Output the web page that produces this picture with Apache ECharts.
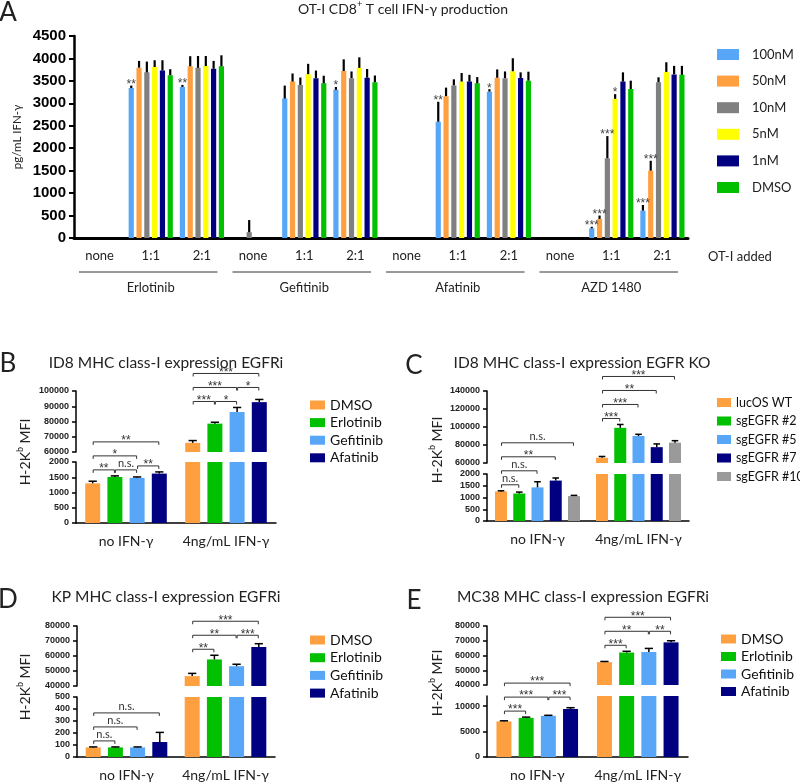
<!DOCTYPE html>
<html><head><meta charset="utf-8">
<script src="https://cdn.jsdelivr.net/npm/echarts@6/dist/echarts.min.js"></script>
<style>html,body{margin:0;padding:0;background:#fff}#c{width:800px;height:783px}</style>
</head><body><div id="c"></div>
<script>
// ================= DATA =================
// Panel A
const aConcentrations = ['100nM', '50nM', '10nM', '5nM', '1nM', 'DMSO'];
const aCategories = ['none', '1:1', '2:1', 'none', '1:1', '2:1', 'none', '1:1', '2:1', 'none', '1:1', '2:1'];
const aDrugs = ['Erlotinib', 'Gefitinib', 'Afatinib', 'AZD 1480'];
const aYAxis = [0, 4500, 500];
const a100nM = [0, 3340, 3365, 0, 3105, 3300, 0, 2590, 3260, 0, 215, 610];
const a50nM  = [0, 3795, 3825, 0, 3485, 3720, 0, 3160, 3570, 0, 425, 1500];
const a10nM  = [0, 3690, 3790, 130, 3410, 3560, 0, 3400, 3560, 0, 1775, 3470];
const a5nM   = [0, 3810, 3830, 0, 3650, 3790, 0, 3485, 3715, 0, 3100, 3700];
const a1nM   = [0, 3730, 3770, 0, 3560, 3570, 0, 3485, 3565, 0, 3485, 3645];
const aDMSO  = [0, 3625, 3825, 0, 3445, 3470, 0, 3445, 3505, 0, 3320, 3635];
const a100nMErr = [0, 55, 45, 0, 290, 65, 0, 445, 55, 0, 35, 125];
const a50nMErr  = [0, 150, 225, 0, 180, 260, 0, 190, 185, 0, 75, 220];
const a10nMErr  = [0, 240, 265, 270, 165, 150, 0, 135, 150, 0, 495, 110];
const a5nMErr   = [0, 150, 225, 0, 230, 235, 0, 190, 290, 0, 105, 215];
const a1nMErr   = [0, 230, 175, 0, 170, 195, 0, 150, 125, 0, 205, 190];
const aDMSOErr  = [0, 135, 245, 0, 170, 150, 0, 140, 200, 0, 185, 200];
const a100nMSig = ['', '**', '**', '', '', '*', '', '**', '*', '', '***', '***'];
const a50nMSig  = ['', '', '', '', '', '', '', '', '', '', '***', '***'];
const a10nMSig  = ['', '', '', '', '', '', '', '', '', '', '***', ''];
const a5nMSig   = ['', '', '', '', '', '', '', '', '', '', '*', ''];
const a1nMSig   = ['', '', '', '', '', '', '', '', '', '', '', ''];
const aDMSOSig  = ['', '', '', '', '', '', '', '', '', '', '', ''];

// Panels B-E
const ifnGroups = ['no IFN-γ', '4ng/mL IFN-γ'];
const egfriNames = ['DMSO', 'Erlotinib', 'Gefitinib', 'Afatinib'];
const koNames = ['lucOS WT', 'sgEGFR #2', 'sgEGFR #5', 'sgEGFR #7', 'sgEGFR #10'];

// B: ID8 EGFRi
const bDMSO = [1300, 66000], bErlotinib = [1510, 78600], bGefitinib = [1480, 86200], bAfatinib = [1620, 92700];
const bDMSOErr = [70, 1500], bErlotinibErr = [35, 900], bGefitinibErr = [30, 3000], bAfatinibErr = [55, 1750];
const bTopAxis = [60000, 100000, 10000], bBottomAxis = [0, 2000, 500];
// [group, fromBar, toBar, label, tier]
const bSig = [[0,0,1,'**',0],[0,1,2,'n.s.',0],[0,2,3,'**',1],[0,0,2,'*',2],[0,0,3,'**',3],
              [1,0,1,'***',0],[1,1,2,'*',0],[1,0,2,'***',1],[1,2,3,'*',1],[1,0,3,'***',2]];

// C: ID8 EGFR KO
const cLucOS = [1260, 65800], cSg2 = [1170, 99100], cSg5 = [1430, 90000], cSg7 = [1720, 77600], cSg10 = [1060, 82600];
const cLucOSErr = [25, 1450], cSg2Err = [60, 3700], cSg5Err = [240, 1900], cSg7Err = [110, 3600], cSg10Err = [30, 2200];
const cTopAxis = [60000, 140000, 20000], cBottomAxis = [0, 2000, 500];
const cSig = [[0,0,1,'n.s.',0],[0,0,2,'n.s.',1],[0,0,3,'**',2],[0,0,4,'n.s.',3],
              [1,0,1,'***',0],[1,0,2,'***',1],[1,0,3,'**',2],[1,0,4,'***',3]];

// D: KP EGFRi
const dDMSO = [80, 46600], dErlotinib = [80, 57700], dGefitinib = [80, 53200], dAfatinib = [125, 66000];
const dDMSOErr = [4, 1800], dErlotinibErr = [4, 2800], dGefitinibErr = [4, 1300], dAfatinibErr = [80, 2200];
const dTopAxis = [40000, 80000, 10000], dBottomAxis = [0, 500, 100];
const dSig = [[0,0,1,'n.s.',0],[0,0,2,'n.s.',1],[0,0,3,'n.s.',2],
              [1,0,1,'**',0],[1,0,2,'**',1],[1,2,3,'***',1],[1,0,3,'***',2]];

// E: MC38 EGFRi
const eDMSO = [7000, 55500], eErlotinib = [7700, 62000], eGefitinib = [8100, 62400], eAfatinib = [9450, 68900];
const eDMSOErr = [120, 450], eErlotinibErr = [150, 850], eGefitinibErr = [100, 2400], eAfatinibErr = [250, 1100];
const eTopAxis = [40000, 80000, 10000], eBottomAxis = [0, 12000, 5000];
const eSig = [[0,0,1,'***',0],[0,0,2,'***',1],[0,2,3,'***',1],[0,0,3,'***',2],
              [1,0,1,'***',0],[1,0,2,'**',1],[1,2,3,'**',1],[1,0,3,'***',2]];

// ================= STYLE / LAYOUT =================
const FONT = 'Lato';
const NUMFONT = 'Liberation Sans';
const aColors = ['#58a6f8', '#ffa040', '#808080', '#ffff00', '#000080', '#00c000'];
const egfriColors = ['#ffa040', '#00c000', '#58a6f8', '#000080'];
const koColors = ['#ffa040', '#00c000', '#58a6f8', '#000080', '#9a9a9a'];
const plainNum = v => String(v);

const option = {animation: false, backgroundColor: '#fff', grid: [], xAxis: [], yAxis: [], series: [], legend: []};
function addGrid(g) { option.grid.push(Object.assign({containLabel: false, outerBoundsMode: 'none'}, g)); return option.grid.length - 1; }
function addX(a) { option.xAxis.push(a); return option.xAxis.length - 1; }
function addY(a) { option.yAxis.push(a); return option.yAxis.length - 1; }
function barOffset(n, w, gap, i) { const g = w * gap; const total = n * w + (n - 1) * g; return -total / 2 + w / 2 + i * (w + g); }

// ---------- Panel A ----------
const aValues = [a100nM, a50nM, a10nM, a5nM, a1nM, aDMSO];
const aErrs = [a100nMErr, a50nMErr, a10nMErr, a5nMErr, a1nMErr, aDMSOErr];
const aSigs = [a100nMSig, a50nMSig, a10nMSig, a5nMSig, a1nMSig, aDMSOSig];
const A_BW = 5.2, A_GAP = 0.5;
const gA = addGrid({left: 74, top: 36, width: 614, height: 202});
const xA = addX({type: 'category', gridIndex: gA, data: aCategories,
  axisLine: {lineStyle: {color: '#000', width: 3}},
  axisTick: {alignWithLabel: true, length: 4, lineStyle: {color: '#000', width: 2}},
  axisLabel: {fontFamily: FONT, fontSize: 13, color: '#222', margin: 11, interval: 0}});
const xA2 = addX({type: 'category', gridIndex: gA, data: aDrugs, position: 'bottom', offset: 34,
  axisLine: {show: false}, axisTick: {show: false},
  axisLabel: {fontFamily: FONT, fontSize: 13, color: '#222', margin: 9, interval: 0}});
const yA = addY({type: 'value', gridIndex: gA, min: aYAxis[0], max: aYAxis[1], interval: aYAxis[2],
  axisLine: {show: true, lineStyle: {color: '#000', width: 2.5}},
  axisTick: {show: true, length: 5, lineStyle: {color: '#000', width: 2}},
  axisLabel: {fontFamily: NUMFONT, fontWeight: 'bold', fontSize: 15, color: '#000', margin: 8, formatter: plainNum},
  splitLine: {show: false}});
aConcentrations.forEach((n, i) => option.series.push({type: 'bar', name: n, xAxisIndex: xA, yAxisIndex: yA,
  data: aValues[i], barWidth: A_BW, barGap: (A_GAP * 100) + '%', itemStyle: {color: aColors[i]}, silent: true}));
const aErrData = [], aLabFlat = [];
aConcentrations.forEach((n, i) => aValues[i].forEach((v, c) => { aErrData.push([c, v, aErrs[i][c], i]); aLabFlat.push(aSigs[i][c]); }));
option.series.push({type: 'custom', xAxisIndex: xA, yAxisIndex: yA, data: aErrData, z: 5, silent: true,
  renderItem: (params, api) => {
    const c = api.value(0), v = api.value(1), e = api.value(2), i = api.value(3);
    const base = api.coord([c, v]), top = api.coord([c, v + e]);
    const x = base[0] + barOffset(6, A_BW, A_GAP, i);
    const ch = [];
    if (e > 0) ch.push({type: 'line', shape: {x1: x, y1: base[1], x2: x, y2: top[1]}, style: {stroke: '#000', lineWidth: 2.2}});
    const lab = aLabFlat[params.dataIndex];
    if (lab) ch.push({type: 'text', x: x, y: top[1] - 1, style: {text: lab, fill: '#444', font: '12px ' + NUMFONT, align: 'center', verticalAlign: 'middle', textAlign: 'center', textVerticalAlign: 'middle'}});
    return {type: 'group', children: ch};
  }});
option.series.push({type: 'custom', xAxisIndex: xA2, yAxisIndex: yA, data: aDrugs.map((d, i) => [i, 0]), silent: true,
  renderItem: (params, api) => {
    const p = api.coord([api.value(0), 0]); const s = api.size([1, 0])[0];
    return {type: 'line', shape: {x1: p[0] - s / 2 + 5, y1: p[1] + 34, x2: p[0] + s / 2 - 10, y2: p[1] + 34}, style: {stroke: '#333', lineWidth: 1}};
  }});
option.legend.push({orient: 'vertical', left: 712, top: 43, itemWidth: 22, itemHeight: 11, itemGap: 13.6, icon: 'rect', selectedMode: false,
  textStyle: {fontFamily: FONT, fontSize: 13, color: '#222', padding: [0, 0, 0, 8]},
  data: aConcentrations.map((n, i) => ({name: n, itemStyle: {color: aColors[i]}}))});

// ---------- Broken-axis panels ----------
function brokenPanel(P) {
  const gT = addGrid({left: P.left, top: P.topGrid[0], width: P.width, height: P.topGrid[1]});
  const gB = addGrid({left: P.left, top: P.botGrid[0], width: P.width, height: P.botGrid[1]});
  const xT = addX({type: 'category', gridIndex: gT, data: P.groups, show: false});
  const xB = addX({type: 'category', gridIndex: gB, data: P.groups,
    axisLine: {lineStyle: {color: '#000', width: 1.5}},
    axisTick: {alignWithLabel: true, length: 4, lineStyle: {color: '#000', width: 1.5}},
    axisLabel: {fontFamily: FONT, fontSize: 14, color: '#222', margin: 11, interval: 0}});
  const yStyle = (gi, ax, extra) => Object.assign({type: 'value', gridIndex: gi, min: ax[0], max: ax[1], interval: ax[2],
    axisLine: {show: true, lineStyle: {color: '#000', width: 1.5}},
    axisTick: {show: true, length: 4, lineStyle: {color: '#000', width: 1.5}},
    axisLabel: Object.assign({fontFamily: NUMFONT, fontWeight: 'bold', fontSize: 9, color: '#222', margin: 7, formatter: plainNum}, extra || {}),
    splitLine: {show: false}});
  const yT = addY(yStyle(gT, P.topAxis));
  const yB = addY(yStyle(gB, P.botAxis, P.botLabelExtra));
  const n = P.names.length;
  [[xT, yT, P.topAxis], [xB, yB, P.botAxis]].forEach(([xi, yi, ax]) => {
    P.names.forEach((nm, i) => option.series.push({type: 'bar', name: nm, xAxisIndex: xi, yAxisIndex: yi, data: P.values[i],
      barWidth: P.barWidth, barGap: (P.barGap * 100) + '%', itemStyle: {color: P.colors[i]}, silent: true}));
    const data = [];
    P.names.forEach((nm, i) => P.values[i].forEach((v, c) => data.push([c, v, P.errs[i][c], i])));
    option.series.push({type: 'custom', xAxisIndex: xi, yAxisIndex: yi, data, z: 5, silent: true,
      renderItem: (params, api) => {
        const c = api.value(0), v = api.value(1), e = api.value(2), i = api.value(3);
        if (v < ax[0] || v > ax[1] || !(e > 0)) return;
        const base = api.coord([c, v]), top = api.coord([c, v + e]);
        const x = base[0] + barOffset(n, P.barWidth, P.barGap, i);
        const cw = P.barWidth * 0.55;
        return {type: 'group', children: [
          {type: 'line', shape: {x1: x, y1: base[1], x2: x, y2: top[1]}, style: {stroke: '#000', lineWidth: 1.5}},
          {type: 'line', shape: {x1: x - cw / 2, y1: top[1], x2: x + cw / 2, y2: top[1]}, style: {stroke: '#000', lineWidth: 1.5}}]};
      }});
  });
  option.legend.push({orient: 'vertical', left: P.legend[0], top: P.legend[1], itemWidth: P.legend[2], itemHeight: 9, itemGap: P.legend[3],
    icon: 'rect', selectedMode: false, textStyle: {fontFamily: FONT, fontSize: P.legend[4], color: '#111', overflow: 'none'},
    data: P.names.map((nm, i) => ({name: nm, itemStyle: {color: P.colors[i]}}))});
  return Object.assign({}, P, {xT, yT, xB, yB});
}

const panels = [
  brokenPanel({names: egfriNames, colors: egfriColors, groups: ifnGroups,
    values: [bDMSO, bErlotinib, bGefitinib, bAfatinib], errs: [bDMSOErr, bErlotinibErr, bGefitinibErr, bAfatinibErr],
    topAxis: bTopAxis, botAxis: bBottomAxis, sig: bSig, left: 76, width: 200, topGrid: [391, 61], botGrid: [462, 61],
    barWidth: 15, barGap: 0.48, legend: [305, 393, 15, 3.6, 14]}),
  brokenPanel({names: koNames, colors: koColors, groups: ifnGroups,
    values: [cLucOS, cSg2, cSg5, cSg7, cSg10], errs: [cLucOSErr, cSg2Err, cSg5Err, cSg7Err, cSg10Err],
    topAxis: cTopAxis, botAxis: cBottomAxis, sig: cSig, left: 487, width: 202, topGrid: [391, 72], botGrid: [474, 47],
    barWidth: 12, barGap: 0.52, legend: [712, 391, 14, 5.5, 12.5]}),
  brokenPanel({names: egfriNames, colors: egfriColors, groups: ifnGroups,
    values: [dDMSO, dErlotinib, dGefitinib, dAfatinib], errs: [dDMSOErr, dErlotinibErr, dGefitinibErr, dAfatinibErr],
    topAxis: dTopAxis, botAxis: dBottomAxis, sig: dSig, left: 77, width: 198, topGrid: [626, 60], botGrid: [697, 60],
    barWidth: 15, barGap: 0.48, legend: [305, 628, 15, 3.7, 14]}),
  brokenPanel({names: egfriNames, colors: egfriColors, groups: ifnGroups,
    values: [eDMSO, eErlotinib, eGefitinib, eAfatinib], errs: [eDMSOErr, eErlotinibErr, eGefitinibErr, eAfatinibErr],
    topAxis: eTopAxis, botAxis: eBottomAxis, sig: eSig, left: 487, width: 201, topGrid: [626, 59], botGrid: [696, 61],
    barWidth: 15, barGap: 0.48, legend: [716, 627, 15, 3.5, 14], botLabelExtra: {showMaxLabel: false}})
];

const chart = echarts.init(document.getElementById('c'), null, {renderer: 'canvas'});
chart.setOption(option);

// ---------- Texts ----------
function txt(x, y, text, size, extra) {
  return Object.assign({type: 'text', x, y, silent: true, style: {text, fill: '#222', font: size + 'px ' + FONT,
    align: 'center', verticalAlign: 'middle', textAlign: 'center', textVerticalAlign: 'middle'}}, extra || {});
}
function richText(x, y, parts, size, rot) {
  return {type: 'text', x, y, rotation: rot || 0, silent: true, style: {
    text: parts, align: 'center', verticalAlign: 'middle', textAlign: 'center', textVerticalAlign: 'middle',
    rich: {n: {fontSize: size, fontFamily: FONT, fill: '#222', lineHeight: size + 4},
           s: {fontSize: Math.round(size * 0.65), fontFamily: FONT, fill: '#222', lineHeight: Math.round(size * 0.65), verticalAlign: 'top'}}}};
}
const graphics = [
  txt(8, 13, 'A', 26), txt(8, 364, 'B', 26), txt(414, 366, 'C', 26), txt(8, 600, 'D', 26), txt(414, 601, 'E', 26),
  richText(403, 9, '{n|OT-I CD8}{s|+}{n| T cell IFN-γ production}', 14),
  txt(166, 363, 'ID8 MHC class-I expression EGFRi', 15.5),
  txt(582, 363, 'ID8 MHC class-I expression EGFR KO', 15.5),
  txt(166, 597, 'KP MHC class-I expression EGFRi', 15.5),
  txt(583, 597, 'MC38 MHC class-I expression EGFRi', 15.5),
  txt(17, 137, 'pg/mL IFN-γ', 11.5, {rotation: Math.PI / 2}),
  richText(25, 452, '{n|H-2K}{s|b}{n| MFI}', 14, Math.PI / 2),
  richText(437, 450, '{n|H-2K}{s|b}{n| MFI}', 14, Math.PI / 2),
  richText(25, 687, '{n|H-2K}{s|b}{n| MFI}', 14, Math.PI / 2),
  richText(437, 683, '{n|H-2K}{s|b}{n| MFI}', 14, Math.PI / 2),
  txt(708, 257, 'OT-I added', 13, {style: {text: 'OT-I added', fill: '#222', font: '13px ' + FONT, align: 'left', verticalAlign: 'middle', textAlign: 'left', textVerticalAlign: 'middle'}})
];

// ---------- Significance brackets (placed through the axes' scales) ----------
const GAP = 6, STEP = 14;
panels.forEach(P => {
  const n = P.names.length;
  const barX = (c, i) => chart.convertToPixel({xAxisIndex: P.xB}, c) + barOffset(n, P.barWidth, P.barGap, i);
  const errTop = (c, i) => {
    const t = P.values[i][c] + P.errs[i][c];
    return chart.convertToPixel({yAxisIndex: t <= P.botAxis[1] ? P.yB : P.yT}, t);
  };
  const placed = [];
  const maxTier = Math.max(...P.sig.map(s => s[4]));
  for (let t = 0; t <= maxTier; t++) {
    for (let g = 0; g < P.groups.length; g++) {
      const items = P.sig.filter(s => s[0] === g && s[4] === t);
      if (!items.length) continue;
      let level = Infinity;
      items.forEach(s => {
        for (let b = s[1]; b <= s[2]; b++) level = Math.min(level, errTop(g, b) - GAP);
        placed.forEach(p => { if (p.g === g && p.from < s[2] && s[1] < p.to) level = Math.min(level, p.y - STEP); });
      });
      items.forEach(s => placed.push({g, from: s[1], to: s[2], y: level, label: s[3]}));
    }
  }
  placed.forEach(p => {
    const x1 = barX(p.g, p.from) + 0.5, x2 = barX(p.g, p.to) - 0.5;
    graphics.push({type: 'polyline', silent: true, shape: {points: [[x1, p.y + 3], [x1, p.y], [x2, p.y], [x2, p.y + 3]]},
      style: {stroke: '#333', lineWidth: 1, fill: null}});
    const isStar = p.label.indexOf('*') >= 0;
    graphics.push({type: 'text', silent: true, x: (x1 + x2) / 2, y: isStar ? p.y - 1 : p.y - 6,
      style: {text: p.label, fill: '#333', font: (isStar ? '12px ' : '11px ') + (isStar ? NUMFONT : FONT),
        align: 'center', verticalAlign: 'middle', textAlign: 'center', textVerticalAlign: 'middle'}});
  });
});
chart.setOption({graphic: graphics});
</script>
</body></html>
